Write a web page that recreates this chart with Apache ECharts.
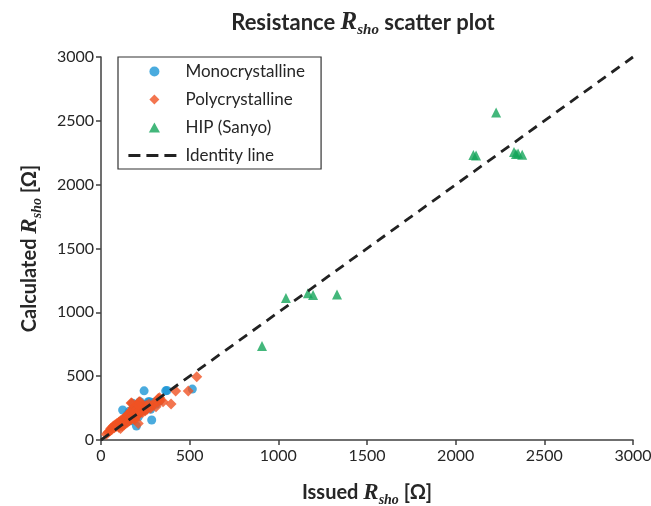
<!DOCTYPE html>
<html>
<head>
<meta charset="utf-8">
<script src="https://cdn.jsdelivr.net/npm/echarts@6/dist/echarts.min.js"></script>
<style>html,body{margin:0;padding:0;background:#fff}#c{width:651px;height:506px}</style>
</head>
<body>
<div id="c"></div>
<script>
var monoX = [243,365,372,515,122,286,179,220,267,286,190,274,250,150,200,230,300,330,140,160,210,180,240,310,120,200,100,260,280,170];
var monoY = [385,385,388,399,235,157,287,300,300,287,235,300,280,200,250,265,295,305,170,225,180,190,230,280,150,110,120,250,240,150];
var polyX = [30,40,50,55,60,65,70,75,80,85,90,95,100,100,105,110,110,115,120,120,125,130,130,135,140,140,145,150,150,155,160,160,165,170,170,175,180,180,185,190,195,200,200,205,210,215,220,220,230,235,240,250,255,260,270,280,290,300,310,320,330,335,350,395,421,492,540,173,215,323,210,190,170,210];
var polyY = [45,60,70,90,80,100,110,95,120,105,130,115,140,100,125,150,90,135,160,110,145,170,120,155,180,130,165,200,140,175,210,150,185,230,160,195,250,170,205,220,180,240,190,280,200,230,300,210,250,215,260,230,270,240,280,250,270,290,260,300,330,310,300,282,384,384,496,290,300,326,130,160,290,270];
var hipX = [1043,908,1167,1196,1331,2100,2115,2228,2329,2340,2352,2375];
var hipY = [1112,736,1150,1135,1140,2232,2228,2565,2255,2240,2245,2235];
var identityX = [0,3000];
var identityY = [0,3000];

function zip(a,b){return a.map(function(v,i){return [v,b[i]];});}

var chart = echarts.init(document.getElementById('c'));
var txt = '#262626';
function richName(size){
  return {
    t:{fontFamily:'Lato',fontWeight:'bold',fontSize:size,color:txt,lineHeight:size+8,verticalAlign:'middle'},
    r:{fontFamily:'Liberation Serif',fontStyle:'italic',fontWeight:'bold',fontSize:size+3,color:txt,lineHeight:size+8,verticalAlign:'middle'},
    s:{fontFamily:'Liberation Serif',fontStyle:'italic',fontWeight:'bold',fontSize:Math.round(size*0.7),color:txt,lineHeight:Math.round(size*0.7),verticalAlign:'bottom'}
  };
}
function plain(v){return String(v);}
var axisCommon = {
  type:'value', min:0, max:3000, interval:500,
  splitLine:{show:false},
  axisLine:{show:true,lineStyle:{color:'#404040',width:1.5}},
  axisTick:{show:true,length:5,inside:false,lineStyle:{color:'#404040',width:1.5}}
};
chart.setOption({
  animation:false,
  title:{
    text:'{t|Resistance }{r|R}{s|sho}{t| scatter plot}',
    left:358, top:3, textAlign:'center',
    textStyle:{rich:richName(22)}
  },
  grid:{left:101,right:18,top:57,bottom:66,containLabel:false,outerBoundsMode:'none'},
  legend:{
    left:118, top:57, orient:'vertical', itemWidth:52, itemHeight:10, itemGap:11,
    symbolKeepAspect:true,
    padding:[6,16,5,9], borderColor:'#333', borderWidth:1.2, backgroundColor:'#fff',
    textStyle:{fontFamily:'Lato',fontSize:17,color:txt,lineHeight:16},
    data:[
      {name:'Monocrystalline', icon:'circle'},
      {name:'Polycrystalline', icon:'path://M5,0 L10,5 L5,10 L0,5 Z'},
      {name:'HIP (Sanyo)', icon:'path://M5,0 L10,9 L0,9 Z'},
      {name:'Identity line', lineStyle:{type:[12,6],width:2.8,color:'#222'}, itemStyle:{opacity:0}}
    ]
  },
  xAxis:Object.assign({}, axisCommon, {
    name:'{t|Issued }{r|R}{s|sho}{t| [Ω]}', nameLocation:'middle', nameGap:39,
    nameTextStyle:{rich:richName(20)},
    axisLabel:{fontFamily:'Lato',fontSize:16,color:txt,margin:8,formatter:plain}
  }),
  yAxis:Object.assign({}, axisCommon, {
    name:'{t|Calculated }{r|R}{s|sho}{t| [Ω]}', nameLocation:'middle', nameGap:57, nameRotate:90,
    nameTextStyle:{rich:richName(20)},
    axisLabel:{fontFamily:'Lato',fontSize:16,color:txt,margin:7,formatter:plain}
  }),
  series:[
    {name:'Monocrystalline', type:'scatter', symbol:'circle', symbolSize:9,
     itemStyle:{color:'#1D96D6'}, data:zip(monoX,monoY)},
    {name:'Polycrystalline', type:'scatter', symbol:'diamond', symbolSize:11,
     itemStyle:{color:'#F05323'}, data:zip(polyX,polyY)},
    {name:'HIP (Sanyo)', type:'scatter', symbol:'triangle', symbolSize:10,
     itemStyle:{color:'#14A55A'}, data:zip(hipX,hipY)},
    {name:'Identity line', type:'line', symbol:'none', showSymbol:false,
     lineStyle:{color:'#222',width:2.8,type:[10,7]}, data:zip(identityX,identityY)}
  ]
});
</script>
</body>
</html>
